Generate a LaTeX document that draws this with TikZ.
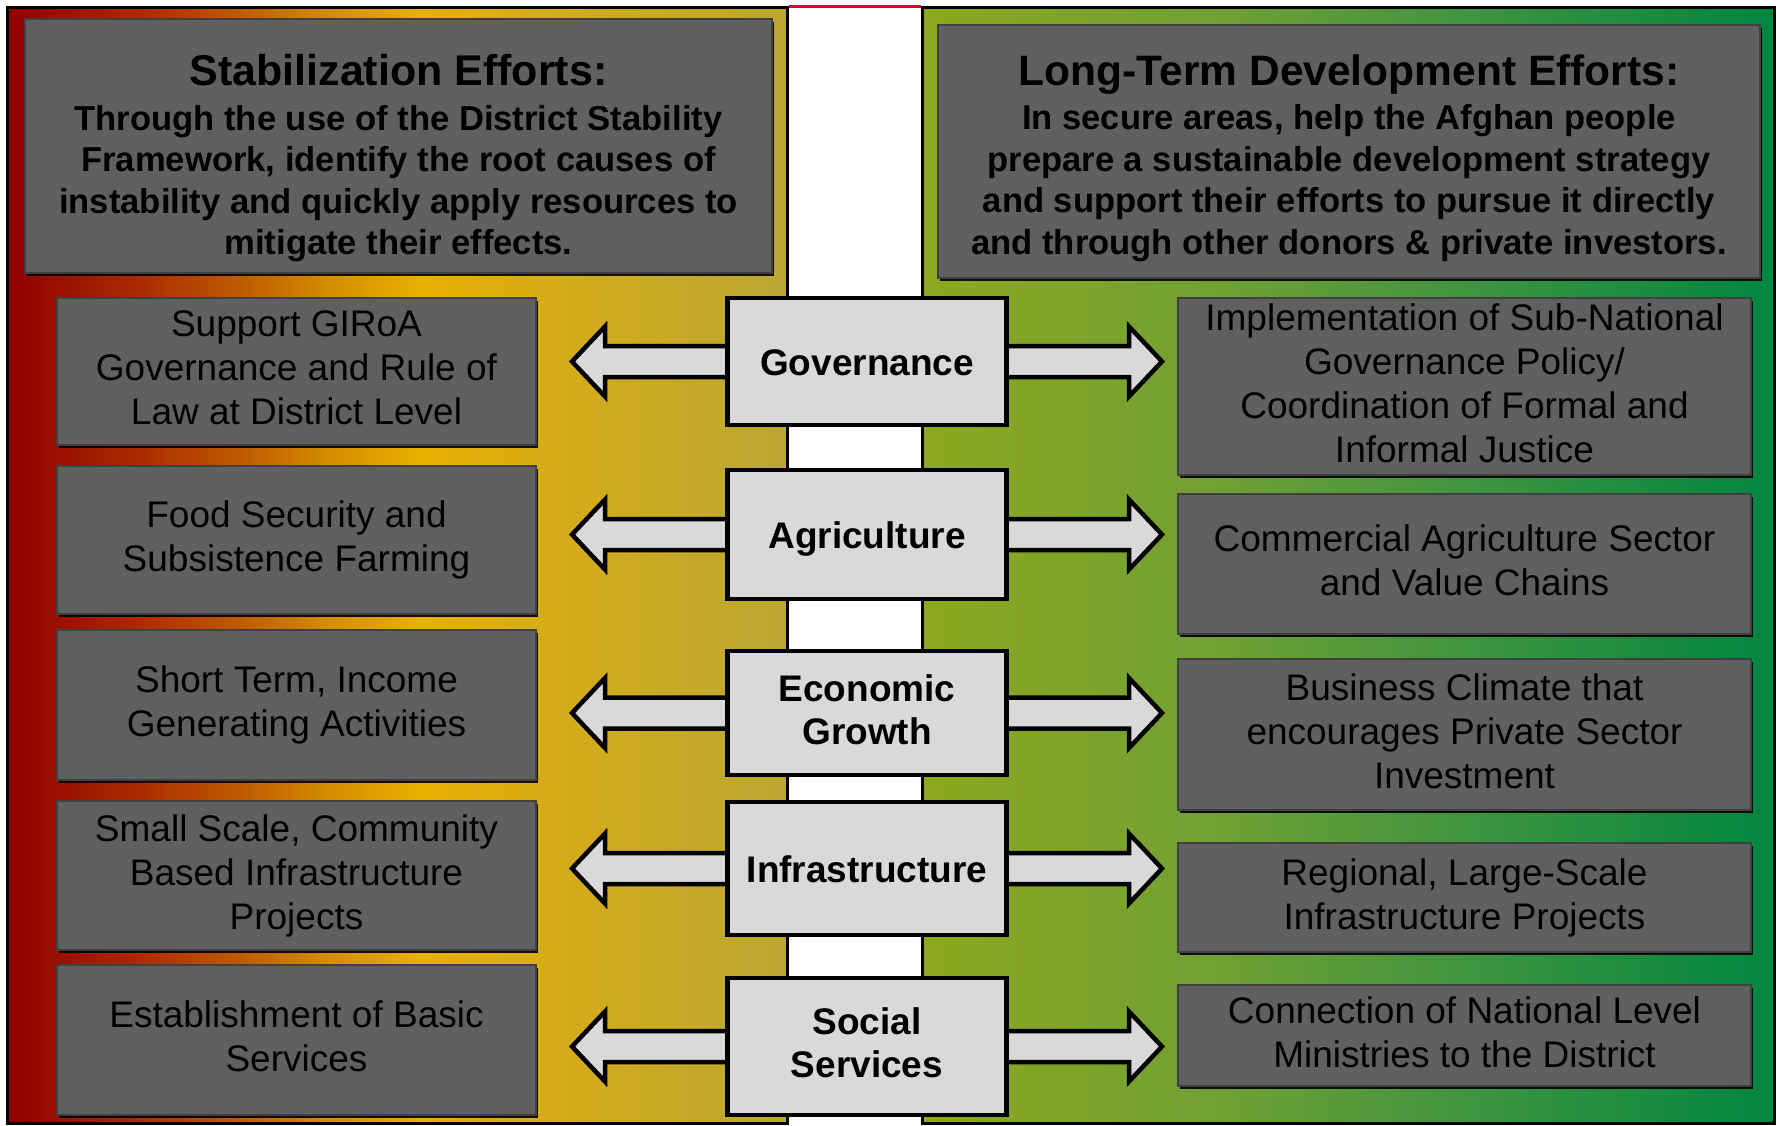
\documentclass[tikz,border=0pt]{standalone}
\usepackage{fontspec}
\setmainfont{Liberation Sans}
\usetikzlibrary{shadows,positioning}

\definecolor{stabred}{RGB}{142,0,0}
\definecolor{stabrust}{RGB}{170,40,0}
\definecolor{staborange}{RGB}{192,95,0}
\definecolor{stabamber}{RGB}{212,140,0}
\definecolor{stabgold}{RGB}{232,176,0}
\definecolor{stabmustard}{RGB}{214,172,24}
\definecolor{stabolive}{RGB}{186,166,52}
\definecolor{devolive}{RGB}{141,168,32}
\definecolor{devmoss}{RGB}{112,160,52}
\definecolor{devleaf}{RGB}{62,148,64}
\definecolor{devgreen}{RGB}{26,140,64}
\definecolor{devforest}{RGB}{0,134,64}
\definecolor{boxgray}{RGB}{96,96,96}
\definecolor{boxedge}{RGB}{64,64,64}
\definecolor{sectorgray}{RGB}{217,217,217}
\definecolor{stripred}{RGB}{200,16,46}

\pgfdeclarehorizontalshading{stabshade}{100bp}{color(0bp)=(stabred); color(25bp)=(stabred); color(33bp)=(stabrust); color(40.5bp)=(staborange); color(45.5bp)=(stabamber); color(51.5bp)=(stabgold); color(60bp)=(stabmustard); color(75bp)=(stabolive); color(100bp)=(stabolive)}
\pgfdeclarehorizontalshading{devshade}{100bp}{color(0bp)=(devolive); color(25bp)=(devolive); color(42.5bp)=(devmoss); color(57.5bp)=(devleaf); color(67.5bp)=(devgreen); color(75bp)=(devforest); color(100bp)=(devforest)}

% strut for the 37pt box text
\newcommand{\boxstrut}{\rule[-7.8pt]{0pt}{42.8pt}}

\begin{document}
\begin{tikzpicture}[
  x=1pt, y=-1pt,
  panel/.style={draw=black, line width=3pt, shade},
  boxshadow/.style={drop shadow={shadow xshift=1.5pt, shadow yshift=-3pt, opacity=0.9, fill=black}},
  struts/.style={execute at begin node=\boxstrut, execute at end node=\boxstrut},
  titlebox/.style={rectangle, fill=boxgray, draw=boxedge, line width=1.5pt, boxshadow},
  titletext/.style={inner sep=0pt, align=center, font=\fontsize{34.6}{41.5}\selectfont\bfseries},
  effortbox/.style={rectangle, fill=boxgray, draw=boxedge, line width=1.5pt, boxshadow,
                    struts, align=center, font=\fontsize{37}{44}\selectfont},
  sectorbox/.style={rectangle, fill=sectorgray, draw=black, line width=4.5pt, struts,
                    minimum width=279pt, align=center, font=\fontsize{37}{43}\selectfont\bfseries},
  bigarrow/.style={fill=sectorgray, draw=black, line width=4.5pt, line join=miter}
]
\useasboundingbox (0,0) rectangle (1781,1126);

% background panels
\path[panel, shading=stabshade] (7.5,7.5) rectangle (787,1123);
\path[panel, shading=devshade] (922.5,7.5) rectangle (1774.5,1123);
\draw[stripred, line width=2.5pt] (789,6.5) -- (921,6.5);

% headings
\node[titlebox, minimum width=747pt, minimum height=254pt] (stabbox) at (398.5,146) {};
\node[titletext, below=35.5pt of stabbox.north] (stabtext)
{{\fontsize{43}{41.5}\selectfont Stabilization Efforts:}\\[3.6pt]
Through the use of the District Stability\\
Framework, identify the root causes of\\
instability and quickly apply resources to\\
mitigate their effects.};

\node[titlebox, minimum width=822pt, minimum height=253pt] (devbox) at (1349,151.5) {};
\node[titletext, below=30pt of devbox.north] (devtext)
{{\fontsize{42.5}{41.5}\selectfont Long-Term Development Efforts:}\\[3pt]
In secure areas, help the Afghan people\\
prepare a sustainable development strategy\\
and support their efforts to pursue it directly\\
and through other donors \& private investors.};

% stabilization side
\node[effortbox, minimum width=479pt, minimum height=147pt] (govleft) at (296.5,371.5)
{Support GIRoA\\Governance and Rule of\\Law at District Level};
\node[effortbox, minimum width=479pt, minimum height=148pt] (agrileft) at (296.5,540)
{Food Security and\\Subsistence Farming};
\node[effortbox, minimum width=479pt, minimum height=150pt] (econleft) at (296.5,705)
{Short Term, Income\\Generating Activities};
\node[effortbox, minimum width=479pt, minimum height=149pt] (infraleft) at (296.5,875.5)
{Small Scale, Community\\Based Infrastructure\\Projects};
\node[effortbox, minimum width=479pt, minimum height=150pt] (socialleft) at (296.5,1040)
{Establishment of Basic\\Services};

% development side
\node[effortbox, minimum width=573pt, minimum height=177pt] (govright) at (1464.5,386.5)
{Implementation of Sub-National\\Governance Policy/\\Coordination of Formal and\\Informal Justice};
\node[effortbox, minimum width=573pt, minimum height=140pt] (agriright) at (1464.5,564)
{Commercial Agriculture Sector\\and Value Chains};
\node[effortbox, minimum width=573pt, minimum height=151pt] (econright) at (1464.5,734.5)
{Business Climate that\\encourages Private Sector\\Investment};
\node[effortbox, minimum width=573pt, minimum height=109pt] (infraright) at (1464.5,897.5)
{Regional, Large-Scale\\Infrastructure Projects};
\node[effortbox, minimum width=573pt, minimum height=101pt] (socialright) at (1464.5,1035.5)
{Connection of National Level\\Ministries to the District};

% double arrows behind the sector boxes
\foreach \sector/\ypos in {gov/361.5, agri/534.5, econ/713, infra/868.5, social/1046.5}{
  \coordinate (\sector-mid) at (867,\ypos);
  \draw[bigarrow] (\sector-mid) +(-262,-15.5) -- +(-262,-35) -- +(-295,0) -- +(-262,35)
    -- +(-262,15.5) -- +(262,15.5) -- +(262,35) -- +(295,0) -- +(262,-35)
    -- +(262,-15.5) -- cycle;
}

% sectors
\node[sectorbox, minimum height=127pt] (gov) at (gov-mid) {Governance};
\node[sectorbox, minimum height=129pt] (agri) at (agri-mid) {Agriculture};
\node[sectorbox, minimum height=124pt] (econ) at (econ-mid) {Economic\\Growth};
\node[sectorbox, minimum height=133pt] (infra) at (infra-mid) {Infrastructure};
\node[sectorbox, minimum height=137pt] (social) at (social-mid) {Social\\Services};
\end{tikzpicture}
\end{document}
